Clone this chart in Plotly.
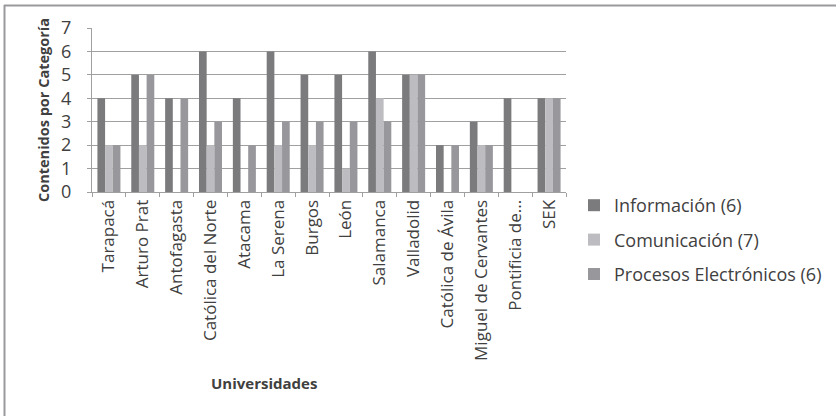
import plotly.graph_objects as go

universidades = ["Tarapacá", "Arturo Prat", "Antofagasta", "Católica del Norte", "Atacama",
                 "La Serena", "Burgos", "León", "Salamanca", "Valladolid",
                 "Católica de Ávila", "Miguel de Cervantes", "Pontificia de...", "SEK"]
informacion = [4, 5, 4, 6, 4, 6, 5, 5, 6, 5, 2, 3, 4, 4]
comunicacion = [2, 2, 0, 2, 0, 2, 2, 1, 4, 5, 0, 2, 0, 4]
procesos = [2, 5, 4, 3, 2, 3, 3, 3, 3, 5, 2, 2, 0, 4]
series_names = ["Información (6)", "Comunicación (7)", "Procesos Electrónicos (6)"]
colors = ["#7b7b7e", "#bdbdc1", "#98989c"]

W, H = 836, 416
x0, x1 = 92, 566
yt, yb = 28, 192
pw, ph = x1 - x0, yb - yt

def px(x):
    return (x - x0) / pw

def py(y):
    return (yb - y) / ph

fig = go.Figure()
for name, vals, c, g in zip(series_names, [informacion, comunicacion, procesos], colors, ["a", "b", "c"]):
    fig.add_trace(go.Bar(x=universidades, y=vals, name=name, marker_color=c,
                         marker_line_width=0, legendgroup=g))

font = "Open Sans, Noto Sans, sans-serif"
txt = "#404040"
fig.update_layout(
    width=W, height=H,
    margin=dict(l=x0, r=W - x1, t=yt, b=H - yb, autoexpand=False),
    paper_bgcolor="white", plot_bgcolor="white",
    barmode="group", bargap=0.32, bargroupgap=0,
    font=dict(family=font, size=18, color=txt),
    showlegend=True,
    legend=dict(x=px(574), y=py(187), xanchor="left", yanchor="top",
                font=dict(size=18, color=txt), tracegroupgap=8,
                itemwidth=30, bgcolor="rgba(0,0,0,0)"),
    xaxis=dict(tickangle=-90, showgrid=False, automargin=False,
               showline=True, linecolor="#a0a0a0", linewidth=1,
               ticks="outside", ticklen=4, tickcolor="#a0a0a0", tickson="boundaries",
               tickfont=dict(size=17, color=txt)),
    yaxis=dict(range=[0, 7], dtick=1, automargin=False,
               showgrid=True, gridcolor="#a0a0a0", gridwidth=1,
               showline=True, linecolor="#a0a0a0", linewidth=1,
               ticks="outside", ticklen=4, tickcolor="#a0a0a0", ticklabelstandoff=12,
               tickfont=dict(size=18, color=txt), zeroline=False,
               title=dict(text="<b>Contenidos por Categoría</b>", font=dict(size=14.5, color=txt), standoff=8)),
    annotations=[
        dict(text="<b>Universidades</b>", xref="paper", yref="paper", x=px(264), y=py(383),
             xanchor="center", yanchor="middle", showarrow=False,
             font=dict(size=15, color=txt, family=font)),
    ],
    shapes=[
        dict(type="line", xref="paper", yref="paper", x0=px(4.5), x1=px(4.5), y0=py(H), y1=py(5),
             line=dict(color="#9a9a9e", width=2)),
        dict(type="line", xref="paper", yref="paper", x0=px(4), x1=px(W), y0=py(5.5), y1=py(5.5),
             line=dict(color="#9a9a9e", width=2)),
    ],
)
fig.write_html("out.html", config={"displayModeBar": False},
               post_script="document.body.style.margin='0';document.body.style.overflow='hidden';")
